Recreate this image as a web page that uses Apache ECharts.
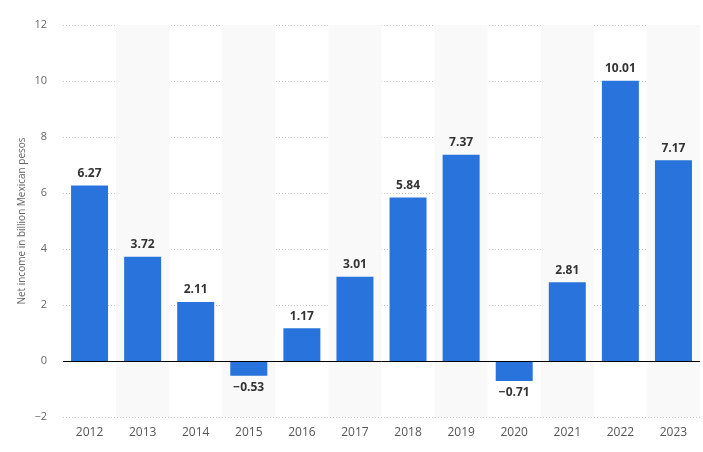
<!DOCTYPE html>
<html><head><meta charset="utf-8">
<script src="https://cdn.jsdelivr.net/npm/echarts@6/dist/echarts.min.js"></script>
<style>html,body{margin:0;padding:0;background:#fff}#c{width:703px;height:452px}</style>
</head><body><div id="c"></div>
<script>
var categories = ['2012','2013','2014','2015','2016','2017','2018','2019','2020','2021','2022','2023'];
var netIncome = [6.27, 3.72, 2.11, -0.53, 1.17, 3.01, 5.84, 7.37, -0.71, 2.81, 10.01, 7.17];
var yTitle = 'Net income in billion Mexican pesos';

var chart = echarts.init(document.getElementById('c'), null, {renderer: 'canvas'});
chart.setOption({
  animation: false,
  grid: {left: 63, right: 3, top: 25, bottom: 35},
  xAxis: {
    type: 'category',
    data: categories,
    axisLine: {show: false},
    axisTick: {show: false},
    axisLabel: {color: '#555', fontSize: 12, fontFamily: 'Open Sans', margin: 10},
    splitArea: {show: true, areaStyle: {color: ['rgba(255,255,255,0)', '#f9f9f9']}}
  },
  yAxis: {
    type: 'value',
    min: -2, max: 12, interval: 2,
    name: yTitle,
    nameLocation: 'middle',
    nameGap: 36,
    nameMoveOverlap: false,
    nameTextStyle: {color: '#666', fontSize: 10, fontFamily: 'Open Sans'},
    axisLine: {show: false},
    axisTick: {show: false},
    axisLabel: {color: '#666', fontSize: 11, fontFamily: 'Open Sans', margin: 16,
      formatter: function(v){ return v < 0 ? '\u2212' + Math.abs(v) : String(v); }},
    splitLine: {lineStyle: {color: '#c8c8c8', type: [1, 2], width: 1}}
  },
  series: [{
    type: 'bar',
    data: netIncome,
    barWidth: 37,
    itemStyle: {color: '#2874dc'},
    label: {
      show: true,
      position: 'outside',
      distance: 6,
      color: '#333',
      fontWeight: 'bold',
      fontSize: 12,
      fontFamily: 'Open Sans',
      formatter: function(p){ var v = p.value; return v < 0 ? '\u2212' + Math.abs(v).toFixed(2) : v.toFixed(2); }
    },
    markLine: {
      silent: true,
      symbol: 'none',
      label: {show: false},
      lineStyle: {color: '#000', type: 'solid', width: 1},
      data: [{yAxis: 0}]
    }
  }]
});
</script></body></html>
